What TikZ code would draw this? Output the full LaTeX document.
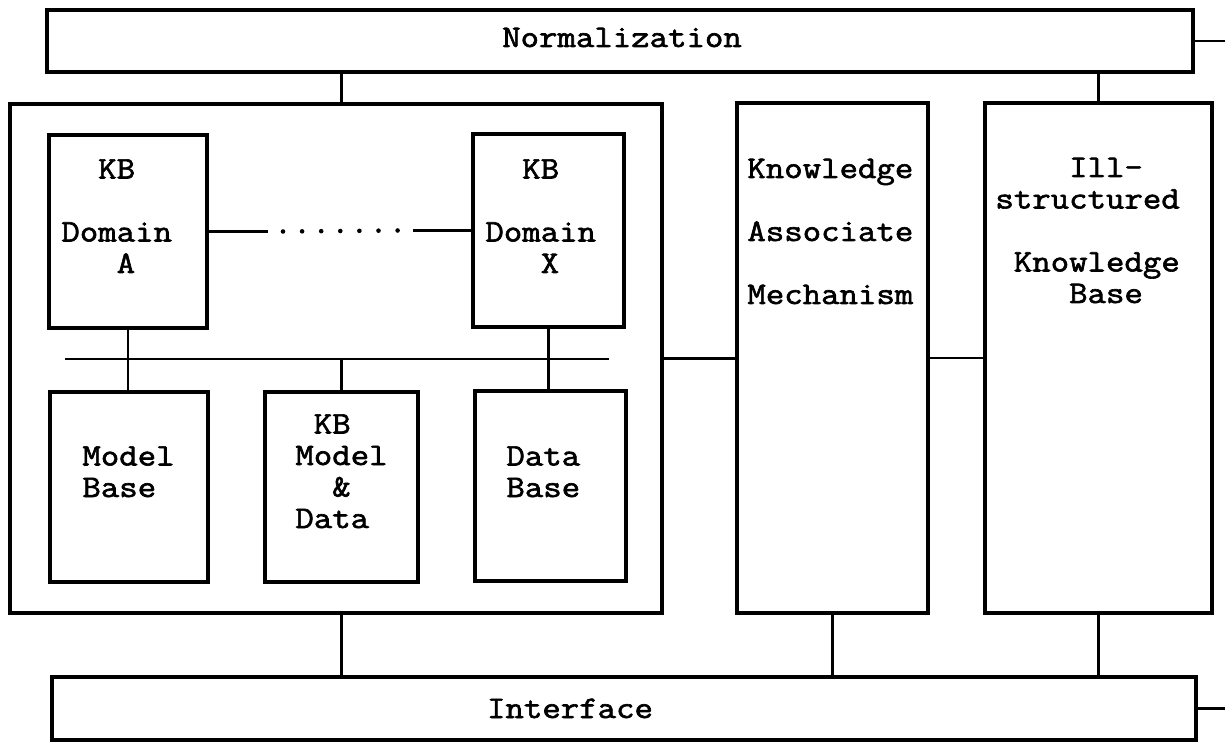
\documentclass[tikz,border=0pt]{standalone}
\usepackage{fontspec}
\usetikzlibrary{calc}
\newfontfamily\boxfont{Latin Modern Mono}[FakeStretch=1.14, FakeBold=2]
\newcommand\pad{\hphantom{x}}

\begin{document}
\begin{tikzpicture}[x=0.5pt, y=-0.5pt,
    block/.style={draw=black, line width=1.6pt, inner sep=0pt, outer sep=0pt},
    link/.style={draw=black, line width=1.3pt},
    dotrun/.style={draw=black, line width=2.3pt, line cap=round, dash pattern=on 0pt off 9.55pt},
    txt/.style={font=\boxfont\fontsize{15.7}{15.75}\selectfont, align=left, anchor=base west, inner sep=0pt}]

    \useasboundingbox (0,0) rectangle (1225,742);

    % Top and bottom bars
    \node[block, minimum width=573pt, minimum height=31pt] (norm) at (620,41) {};
    \node[block, minimum width=572pt, minimum height=31.5pt] (iface) at (624,708.5) {};

    % Knowledge base group (outer frame)
    \node[block, minimum width=326pt, minimum height=254.5pt] (outer) at (336,358.5) {};

    % Domain knowledge bases
    \node[block, minimum width=79pt, minimum height=96.5pt] (domA) at (128,231.5) {};
    \node[block, minimum width=75.5pt, minimum height=96.5pt] (domX) at (548.5,230.5) {};

    % Lower bases
    \node[block, minimum width=79pt, minimum height=95pt] (mbase) at (129,487) {};
    \node[block, minimum width=76.5pt, minimum height=95pt] (kbmd) at (341.5,487) {};
    \node[block, minimum width=75.5pt, minimum height=95pt] (dbase) at (550.5,486) {};

    % Right columns
    \node[block, minimum width=95.5pt, minimum height=255pt] (kam) at (832.5,358) {};
    \node[block, minimum width=113.5pt, minimum height=255pt] (iskb) at (1098.5,358) {};

    % Texts (placed at the baseline of their last line)
    \node[txt, anchor=base] (normtxt) at (622,47) {Normalization};
    \node[txt, anchor=base] (ifacetxt) at (570,718) {Interface};
    \node[txt] (domAtxt) at (61,273) {\pad\pad KB\\[15.75pt]Domain\\\pad\pad\pad A};
    \node[txt] (domXtxt) at (485,273) {\pad\pad KB\\[15.75pt]Domain\\\pad\pad\pad X};
    \node[txt] (mbasetxt) at (82,497) {Model\\Base};
    \node[txt] (kbmdtxt) at (295,528) {\pad KB\\Model\\\pad\pad\&\\Data};
    \node[txt] (dbasetxt) at (506,497) {Data\\Base};
    \node[txt] (kamtxt) at (747,304) {Knowledge\\[15.75pt]Associate\\[15.75pt]Mechanism};
    \node[txt] (iskbtxt) at (995,303) {\pad\pad\pad\pad Ill-\\structured\\[15.75pt]\pad Knowledge\\\pad\pad\pad\pad Base};

    % Domain A ... Domain X
    \draw[link] (domA.east) -- ++(61,0) coordinate (dotsL);
    \draw[link] (domX.west) -- ++(-60,0) coordinate (dotsR);
    \draw[dotrun] ($(dotsL)+(15,0)$) -- ($(dotsR)+(-15,0)$);

    % Inner bus
    \coordinate (busL) at (65,359);
    \coordinate (busR) at (609,359);
    \draw[link] (busL) -- (busR);
    \draw[link] (domA.south) -- (domA.south |- mbase.north);
    \draw[link] (kbmd.north) -- (kbmd.north |- busL);
    \draw[link] (domX.south) -- (domX.south |- dbase.north);

    % Links between columns
    \draw[link] (outer.east) -- (outer.east -| kam.west);
    \draw[link] (kam.east) -- (kam.east -| iskb.west);

    % Links to the bars
    \draw[link] (kbmd |- outer.north) -- (kbmd |- norm.south);
    \draw[link] (iskb.north) -- (iskb.north |- norm.south);
    \draw[link] (kbmd |- outer.south) -- (kbmd |- iface.north);
    \draw[link] (kam.south) -- (kam.south |- iface.north);
    \draw[link] (iskb.south) -- (iskb.south |- iface.north);

    % Open ends on the right
    \coordinate (normEnd) at (1225,41);
    \coordinate (ifaceEnd) at (1225,709);
    \draw[link] (norm.east) -- (norm.east -| normEnd);
    \draw[link] (iface.east) -- (iface.east -| ifaceEnd);

\end{tikzpicture}
\end{document}
